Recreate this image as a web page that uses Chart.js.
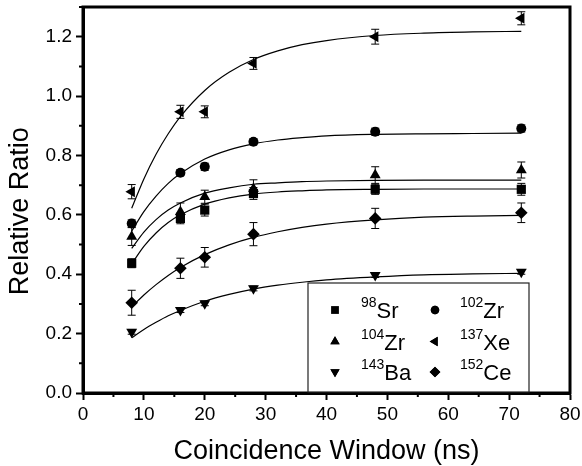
<!DOCTYPE html>
<html>
<head>
<meta charset="utf-8">
<title>Relative Ratio vs Coincidence Window</title>
<script src="https://cdn.jsdelivr.net/npm/chart.js@4/dist/chart.umd.min.js"></script>
<style>
  html, body { margin: 0; padding: 0; background: #fff; }
  #wrap { width: 582px; height: 466px; }
</style>
</head>
<body>
<div id="wrap"><canvas id="ratioChart" width="582" height="466"></canvas></div>
<script>
// -------------------
// DATA

const windows = [8, 16, 20, 28, 48, 72];

const massNumbers = ["98", "102", "104", "137", "143", "152"];
const elements = ["Sr", "Zr", "Zr", "Xe", "Ba", "Ce"];

const sr98 = [0.437, 0.588, 0.616, 0.672, 0.686, 0.686];
const zr102 = [0.571, 0.742, 0.762, 0.846, 0.880, 0.891];
const zr104 = [0.527, 0.610, 0.661, 0.688, 0.734, 0.751];
const xe137 = [0.678, 0.947, 0.947, 1.110, 1.200, 1.262];
const ba143 = [0.206, 0.279, 0.302, 0.352, 0.397, 0.408];
const ce152 = [0.304, 0.420, 0.457, 0.535, 0.588, 0.607];

const sr98Err = [0.015, 0.018, 0.020, 0.020, 0.017, 0.020];
const zr102Err = [0.012, 0.010, 0.012, 0.010, 0.012, 0.012];
const zr104Err = [0.030, 0.030, 0.022, 0.030, 0.028, 0.027];
const xe137Err = [0.024, 0.022, 0.020, 0.020, 0.025, 0.022];
const ba143Err = [0.008, 0.008, 0.008, 0.008, 0.008, 0.008];
const ce152Err = [0.042, 0.034, 0.033, 0.039, 0.034, 0.033];

// fitted curves
const fitX = [8, 10, 12, 14, 16, 20, 24, 28, 32, 36, 40, 48, 56, 64, 72];
const sr98Fit = [0.435, 0.494, 0.539, 0.574, 0.600, 0.636, 0.657, 0.670, 0.677, 0.681, 0.684, 0.686, 0.687, 0.687, 0.687];
const zr102Fit = [0.545, 0.611, 0.663, 0.706, 0.739, 0.788, 0.819, 0.839, 0.852, 0.860, 0.866, 0.871, 0.873, 0.874, 0.875];
const zr104Fit = [0.487, 0.542, 0.584, 0.616, 0.640, 0.673, 0.691, 0.703, 0.708, 0.712, 0.714, 0.716, 0.717, 0.717, 0.717];
const xe137Fit = [0.622, 0.721, 0.804, 0.873, 0.931, 1.019, 1.080, 1.123, 1.152, 1.173, 1.187, 1.204, 1.212, 1.216, 1.218];
const ba143Fit = [0.186, 0.214, 0.238, 0.260, 0.278, 0.309, 0.332, 0.350, 0.363, 0.373, 0.381, 0.391, 0.398, 0.401, 0.403];
const ce152Fit = [0.290, 0.330, 0.365, 0.396, 0.423, 0.466, 0.499, 0.524, 0.543, 0.558, 0.569, 0.583, 0.592, 0.596, 0.598];

const xTickStep = 10;
const yTickStep = 0.2;

// -------------------
// SERIES SETUP

const FONT = "'Liberation Sans', Arial, sans-serif";

const values = [sr98, zr102, zr104, xe137, ba143, ce152];
const errors = [sr98Err, zr102Err, zr104Err, xe137Err, ba143Err, ce152Err];
const fits = [sr98Fit, zr102Fit, zr104Fit, xe137Fit, ba143Fit, ce152Fit];

// marker shape for each nuclide: square, circle, up, left, down, diamond
const markers = [
  { pointStyle: "rect", radius: 6.5, rotation: 0 },
  { pointStyle: "circle", radius: 5, rotation: 0 },
  { pointStyle: "triangle", radius: 6.3, rotation: 0 },
  { pointStyle: "triangle", radius: 6.3, rotation: -90 },
  { pointStyle: "triangle", radius: 6.3, rotation: 180 },
  { pointStyle: "rectRot", radius: 6.3, rotation: 0 },
];

const pointSets = values.map((series, i) => ({
  label: massNumbers[i] + elements[i],
  data: series.map((v, j) => ({ x: windows[j], y: v })),
  showLine: false,
  pointStyle: markers[i].pointStyle,
  pointRadius: markers[i].radius,
  pointRotation: markers[i].rotation,
  pointBackgroundColor: "#000",
  pointBorderColor: "#000",
  pointBorderWidth: 0,
  pointHoverRadius: markers[i].radius,
}));

const fitSets = fits.map((series, i) => ({
  label: "fit " + massNumbers[i] + elements[i],
  data: series.map((v, j) => ({ x: fitX[j], y: v })),
  showLine: true,
  pointRadius: 0,
  borderColor: "#000",
  borderWidth: 1.2,
  tension: 0.4,
  cubicInterpolationMode: "monotone",
  fill: false,
}));

// -------------------
// PLUGINS

// vertical error bars with caps
const errorBars = {
  id: "errorBars",
  afterDatasetsDraw(chart) {
    const { ctx, scales } = chart;
    ctx.save();
    ctx.strokeStyle = "#000";
    ctx.lineWidth = 1;
    errors.forEach((errs, i) => {
      values[i].forEach((v, j) => {
        const x = scales.x.getPixelForValue(windows[j]);
        const top = scales.y.getPixelForValue(v + errs[j]);
        const bot = scales.y.getPixelForValue(v - errs[j]);
        ctx.beginPath();
        ctx.moveTo(x, top);
        ctx.lineTo(x, bot);
        ctx.moveTo(x - 4, top);
        ctx.lineTo(x + 4, top);
        ctx.moveTo(x - 4, bot);
        ctx.lineTo(x + 4, bot);
        ctx.stroke();
      });
    });
    ctx.restore();
  },
};

// minor ticks + the closed frame on top/right
const frame = {
  id: "frame",
  afterDraw(chart) {
    const { ctx, chartArea: a, scales } = chart;
    ctx.save();
    ctx.strokeStyle = "#000";
    ctx.lineWidth = 2;
    ctx.beginPath();
    for (let v = 5; v < 80; v += 10) {
      const x = scales.x.getPixelForValue(v);
      ctx.moveTo(x, a.bottom);
      ctx.lineTo(x, a.bottom + 4);
    }
    for (let v = 0.1; v < 1.3; v += 0.2) {
      const y = scales.y.getPixelForValue(v);
      ctx.moveTo(a.left, y);
      ctx.lineTo(a.left - 4, y);
    }
    ctx.stroke();
    ctx.lineWidth = 3;
    ctx.strokeRect(a.left, a.top, a.right - a.left, a.bottom - a.top);
    ctx.restore();
  },
};

// boxed legend with superscript mass numbers
const isotopeLegend = {
  id: "isotopeLegend",
  afterDraw(chart) {
    const { ctx, chartArea: a } = chart;
    const box = { left: a.left + 225, top: a.top + 276, right: a.right - 41, bottom: a.bottom - 1 };
    ctx.save();
    ctx.fillStyle = "#fff";
    ctx.fillRect(box.left, box.top, box.right - box.left, box.bottom - box.top);
    ctx.strokeStyle = "#222";
    ctx.lineWidth = 1.2;
    ctx.strokeRect(box.left, box.top, box.right - box.left, box.bottom - box.top);

    const colMarker = [box.left + 27, box.left + 127];
    const colText = [box.left + 53, box.left + 152];
    const rowMid = [box.top + 27, box.top + 58.5, box.top + 89];

    massNumbers.forEach((mass, i) => {
      const col = i % 2;
      const row = Math.floor(i / 2);
      const y = rowMid[row];
      Chart.helpers.drawPoint(ctx, {
        pointStyle: markers[i].pointStyle,
        radius: markers[i].radius * 0.85,
        rotation: markers[i].rotation,
        borderWidth: 0,
      }, colMarker[col], y);
      ctx.fillStyle = "#000";
      ctx.fill();

      ctx.textBaseline = "alphabetic";
      ctx.textAlign = "left";
      ctx.font = "14px " + FONT;
      ctx.fillText(mass, colText[col], y - 3);
      const w = ctx.measureText(mass).width;
      ctx.font = "22px " + FONT;
      ctx.fillText(elements[i], colText[col] + w, y + 8);
    });
    ctx.restore();
  },
};

// -------------------
// CHART

const canvasHTML = document.getElementById("ratioChart");

const ratioChart = new Chart(canvasHTML, {
  type: "scatter",
  data: { datasets: [...pointSets, ...fitSets] },
  options: {
    responsive: false,
    devicePixelRatio: 1,
    animation: false,
    layout: { padding: { top: 7, right: 12, left: 0, bottom: 0 } },
    plugins: {
      legend: { display: false },
      tooltip: { enabled: false },
    },
    scales: {
      x: {
        type: "linear",
        min: 0,
        max: 80,
        afterFit: scale => {
          scale.height = 73;
          scale.paddingLeft = 0;
          scale.paddingRight = 0;
        },
        border: { display: true, color: "#000", width: 3 },
        grid: {
          drawOnChartArea: false,
          drawTicks: true,
          tickLength: 7,
          tickWidth: 2,
          tickColor: "#000",
        },
        ticks: {
          stepSize: xTickStep,
          color: "#000",
          padding: 3,
          maxRotation: 0,
          font: { family: FONT, size: 19 },
        },
        title: {
          display: true,
          text: "Coincidence Window (ns)",
          color: "#000",
          font: { family: FONT, size: 27 },
          padding: { top: 0, bottom: -2 },
        },
      },
      y: {
        type: "linear",
        min: 0,
        max: 1.3,
        afterFit: scale => {
          scale.width = 83;
          scale.paddingTop = 0;
          scale.paddingBottom = 0;
        },
        border: { display: true, color: "#000", width: 3 },
        grid: {
          drawOnChartArea: false,
          drawTicks: true,
          tickLength: 7,
          tickWidth: 2,
          tickColor: "#000",
        },
        ticks: {
          stepSize: yTickStep,
          includeBounds: false,
          color: "#000",
          padding: 4,
          font: { family: FONT, size: 19 },
          callback: v => v.toFixed(1),
        },
        title: {
          display: true,
          // trailing spaces nudge the label a little below centre, as in the original
          text: "Relative Ratio   ",
          color: "#000",
          font: { family: FONT, size: 27 },
          padding: { top: 4, bottom: 0 },
        },
      },
    },
  },
  plugins: [errorBars, frame, isotopeLegend],
});
</script>
</body>
</html>
